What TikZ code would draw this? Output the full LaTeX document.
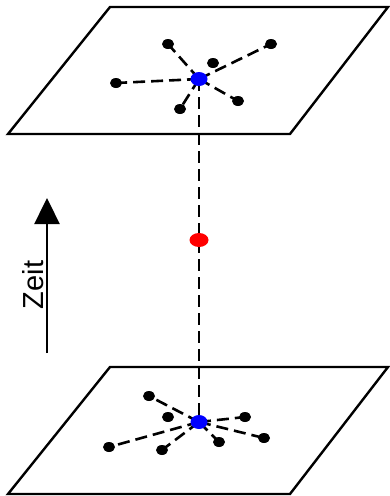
\documentclass[tikz,border=0pt]{standalone}
\usepackage{fontspec}
\setmainfont{Liberation Sans}
\usetikzlibrary{shapes.geometric,backgrounds,arrows.meta}
\begin{document}
\begin{tikzpicture}[x=1pt,y=-1pt,
  plane/.style={draw=black,line width=2.4pt,line join=miter},
  link/.style={draw=black,line width=2.6pt,dash pattern=on 12pt off 6pt},
  dot/.style={ellipse,fill=black,inner sep=0pt,minimum width=12pt,minimum height=10pt},
  hub/.style={ellipse,fill=blue,inner sep=0pt,minimum width=17pt,minimum height=14pt},
  event/.style={ellipse,fill=red,inner sep=0pt,minimum width=19pt,minimum height=14pt},
  timearrow/.style={draw=black,line width=2.4pt,-{Triangle[length=26pt,width=25pt]}}]
\useasboundingbox (0,0) rectangle (389,496);
% top plane nodes
\node[hub] (T) at (199,79) {};
\node[dot] (t1) at (168,44) {};
\node[dot] (t2) at (271,44) {};
\node[dot] (t3) at (213,63) {};
\node[dot] (t4) at (116,83) {};
\node[dot] (t5) at (180,109) {};
\node[dot] (t6) at (238,101) {};
% bottom plane nodes
\node[hub] (B) at (199,422) {};
\node[dot] (b1) at (149,396) {};
\node[dot] (b2) at (168,417) {};
\node[dot] (b3) at (245,417) {};
\node[dot] (b4) at (264,438) {};
\node[dot] (b5) at (219,442) {};
\node[dot] (b6) at (162,450) {};
\node[dot] (b7) at (109,447) {};
% event
\node[event] (E) at (199,240) {};
% time arrow
\coordinate (a0) at (47,353);
\coordinate (a1) at (47,198);
\node[rotate=90,font=\fontsize{29}{34}\selectfont] (zeit) at (33,285) {Zeit};
\begin{pgfonlayer}{background}
  \draw[plane] (110,7) -- (388,7) -- (290,134) -- (8,134) -- cycle;
  \draw[plane] (110,367) -- (388,367) -- (290,494) -- (8,494) -- cycle;
  \draw[link] (T.center) -- (t1.center);
  \draw[link] (T.center) -- (t2.center);
  \draw[link] (T.center) -- (t4.center);
  \draw[link] (T.center) -- (t5.center);
  \draw[link] (T.center) -- (t6.center);
  \draw[link] (B.center) -- (b1.center);
  \draw[link] (B.center) -- (b3.center);
  \draw[link] (B.center) -- (b4.center);
  \draw[link] (B.center) -- (b5.center);
  \draw[link] (B.center) -- (b6.center);
  \draw[link] (B.center) -- (b7.center);
  \draw[link] (T.center) -- (E.center) -- (B.center);
\end{pgfonlayer}
\draw[timearrow] (a0) -- (a1);
\end{tikzpicture}
\end{document}
